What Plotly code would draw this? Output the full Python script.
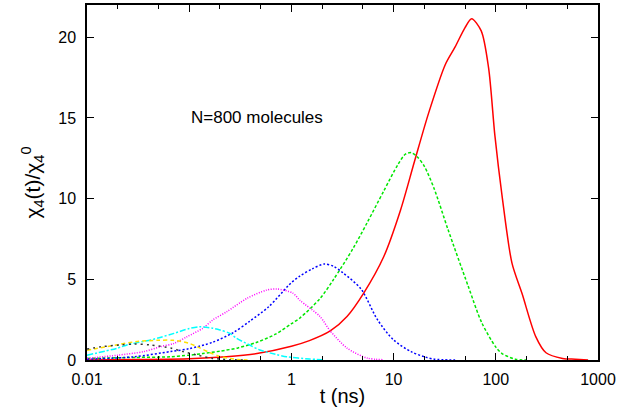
import plotly.graph_objects as go

# ---- data ----
red_t = [0.01, 0.03, 0.1, 0.23, 0.46, 1.0, 1.5, 2.4, 3.5, 5.1, 8.0, 11.7, 16, 22, 32, 40, 50, 58, 72, 85, 98, 115, 144, 181, 246, 310, 450, 600, 800]
red_v = [0.0, 0.03, 0.08, 0.2, 0.4, 0.85, 1.2, 1.8, 2.7, 4.15, 6.4, 9.3, 12.3, 15.3, 18.3, 19.4, 20.6, 21.15, 20.4, 18.1, 13.9, 10.2, 6.0, 4.1, 1.45, 0.45, 0.1, 0.05, 0.0]

green_t = [0.01, 0.025, 0.065, 0.1, 0.136, 0.2, 0.3, 0.46, 0.7, 1.0, 1.21, 1.9, 2.59, 4.0, 5.5, 8.05, 11, 13, 14.8, 17, 20, 25, 34, 53.5, 73, 100, 115, 155, 200]
green_v = [0.1, 0.15, 0.2, 0.3, 0.4, 0.55, 0.75, 1.1, 1.6, 2.25, 2.6, 3.8, 5.0, 6.9, 8.5, 10.5, 12.1, 12.75, 12.85, 12.6, 12.0, 10.6, 8.1, 4.6, 2.3, 0.8, 0.4, 0.05, 0.0]

blue_t = [0.01, 0.029, 0.065, 0.1, 0.17, 0.27, 0.39, 0.6, 1.0, 1.21, 1.6, 2.1, 2.6, 3.2, 4.8, 6.95, 10, 14.8, 20, 25, 40]
blue_v = [0.05, 0.2, 0.52, 0.7, 1.1, 1.7, 2.4, 3.3, 4.8, 5.2, 5.65, 5.95, 5.8, 5.4, 4.4, 2.5, 1.24, 0.52, 0.2, 0.05, 0.0]

magenta_t = [0.01, 0.02, 0.036, 0.052, 0.071, 0.095, 0.136, 0.17, 0.234, 0.37, 0.57, 0.72, 1.03, 1.21, 1.9, 2.4, 3.5, 5.5, 8.0]
magenta_v = [0.1, 0.3, 0.52, 0.82, 1.03, 1.44, 1.97, 2.48, 3.0, 3.83, 4.33, 4.4, 4.15, 3.7, 2.7, 1.8, 0.74, 0.12, 0.02]

cyan_t = [0.01, 0.02, 0.025, 0.042, 0.052, 0.071, 0.1, 0.127, 0.17, 0.2, 0.25, 0.29, 0.39, 0.49, 0.7, 0.9, 1.5, 2.0]
cyan_v = [0.3, 0.74, 0.95, 1.24, 1.4, 1.65, 1.95, 2.06, 1.97, 1.86, 1.65, 1.35, 0.93, 0.62, 0.35, 0.2, 0.06, 0.02]

yellow_t = [0.01, 0.02, 0.031, 0.05, 0.07, 0.1, 0.127, 0.16, 0.2, 0.3, 0.4]
yellow_v = [0.6, 0.95, 1.15, 1.22, 1.22, 1.03, 0.75, 0.45, 0.22, 0.03, 0.0]

black_t = [0.01, 0.0137, 0.021, 0.029, 0.042, 0.066, 0.087, 0.12, 0.17, 0.25, 0.35]
black_v = [0.68, 0.82, 0.93, 0.99, 0.93, 0.74, 0.52, 0.3, 0.1, 0.02, 0.0]

x_tickvals = [0.01, 0.1, 1, 10, 100, 1000]
x_ticktext = ["0.01", "0.1", "1", "10", "100", "1000"]
x_minor = [0.02, 0.05, 0.2, 0.5, 2, 5, 20, 50, 200, 500]
y_tickvals = [0, 5, 10, 15, 20]

series = [
    (red_t, red_v, "#ff0000", "solid"),
    (green_t, green_v, "#00e600", "3px,2px"),
    (blue_t, blue_v, "#0000ff", "2px,2px"),
    (magenta_t, magenta_v, "#ff00ff", "1px,1.5px"),
    (cyan_t, cyan_v, "#00ffff", "6px,2px,2px,2px"),
    (yellow_t, yellow_v, "#ffe000", "4px,3px"),
    (black_t, black_v, "#333333", "2px,4px"),
]

fig = go.Figure()
for t, v, c, d in series:
    fig.add_trace(go.Scatter(x=t, y=v, mode="lines",
                             line=dict(color=c, width=1.5, dash=d, shape="spline", smoothing=0.8),
                             showlegend=False, hoverinfo="skip"))

font = "Liberation Sans, Arial, Helvetica, sans-serif"
axis_common = dict(showline=True, linecolor="black", linewidth=1.5, mirror="allticks",
                   ticks="inside", tickcolor="black", ticklen=7, tickwidth=1,
                   showgrid=False, zeroline=False,
                   tickfont=dict(family=font, size=16, color="black"))

fig.update_xaxes(type="log", range=[-2, 3], tickmode="array", tickvals=x_tickvals, ticktext=x_ticktext,
                 minor=dict(ticks="inside", ticklen=4, tickcolor="black", tickvals=x_minor, showgrid=False),
                 title=dict(text="t (ns)", font=dict(family=font, size=20, color="black"), standoff=2),
                 ticklabelstandoff=4, **axis_common)
fig.update_yaxes(range=[0, 22], tickmode="array", tickvals=y_tickvals,
                 title=dict(text="χ<sub>4</sub>(t)/χ<sub>4</sub><sup>0</sup>",
                            font=dict(family=font, size=21, color="black"), standoff=12),
                 ticklabelstandoff=6, **axis_common)

fig.add_annotation(x=-1, y=15, xref="x", yref="y", text="N=800 molecules", showarrow=False,
                   xanchor="left", yanchor="middle", font=dict(family=font, size=17, color="black"))

fig.update_layout(width=634, height=413, margin=dict(l=87, r=36, t=5, b=53, autoexpand=False),
                  paper_bgcolor="white", plot_bgcolor="white")

fig.write_html("out.html")
